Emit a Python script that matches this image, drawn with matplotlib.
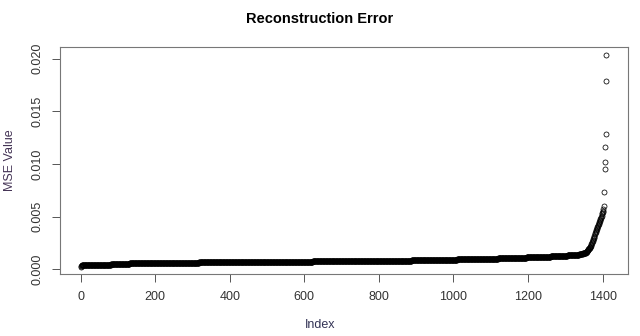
import numpy as np
import matplotlib
matplotlib.use("Agg")
import matplotlib.pyplot as plt

plt.rcParams['font.family'] = ['Liberation Sans', 'DejaVu Sans']

# Sorted MSE values, stored as (value x 1e-4, how many points)
bulk_vals = [2.5, 3.0, 3.5, 4.0, 4.5, 5.0, 5.5, 6.0, 6.5, 7.0, 7.5,
             8.0, 8.5, 9.0, 9.5, 10.0, 10.5, 11.0, 11.5, 12.0, 12.5,
             13.0, 13.5, 14.0, 14.5, 15.0]
bulk_counts = [1, 1, 1, 8, 70, 50, 56, 130, 135, 170, 175,
               90, 60, 62, 60, 50, 40, 36, 35, 30, 25,
               20, 17, 14, 10, 8]

# the knee and the outliers at the far right, one value per point (x 1e-4)
tail_vals = [15.5, 16, 16.5, 17, 17.5, 18, 18.5, 19, 19.5, 20,
             20.5, 21, 21.5, 22, 23, 24, 25, 26, 27, 28,
             29, 30, 31, 32, 33, 34, 35, 36, 37, 38,
             39, 40, 41, 42, 43, 44, 45, 46, 47, 48,
             49, 50, 51, 52, 53, 54, 55, 57, 60,
             73, 95, 102, 116, 128, 179, 203]

mse = np.concatenate([np.repeat(bulk_vals, bulk_counts), tail_vals]) * 1e-4
index = np.arange(1, len(mse) + 1)

fig = plt.figure(figsize=(6.4, 3.36), dpi=100)
ax = fig.add_axes([60 / 640, 1 - 274 / 336, 568 / 640, 227 / 336])

ax.plot(index, mse, linestyle='none', marker='o', markersize=3.6,
        markerfacecolor='none', markeredgecolor='black', markeredgewidth=0.55)

ax.set_xlim(-55, 1468)
ax.set_ylim(-0.00045, 0.0211)
ax.set_xticks([0, 200, 400, 600, 800, 1000, 1200, 1400])
ax.set_yticks([0.000, 0.005, 0.010, 0.015, 0.020])
ax.set_yticklabels(['0.000', '0.005', '0.010', '0.015', '0.020'],
                   rotation=90, va='center')

for s in ax.spines.values():
    s.set_color('#777777')
    s.set_linewidth(0.8)
ax.tick_params(direction='out', length=6, width=0.7, color='#555555',
               labelsize=9, labelcolor='#333333', pad=6)

fig.text(0.5, 1 - 19 / 336, 'Reconstruction Error', ha='center', va='center',
         fontsize=10.5, fontweight='bold')
fig.text(0.5, 1 - 325 / 336, 'Index', ha='center', va='center',
         fontsize=9, color='#333355')
fig.text(10 / 640, 1 - 160 / 336, 'MSE Value', ha='center', va='center',
         rotation=90, fontsize=9, color='#443355')

fig.savefig('out.png', dpi=100)
